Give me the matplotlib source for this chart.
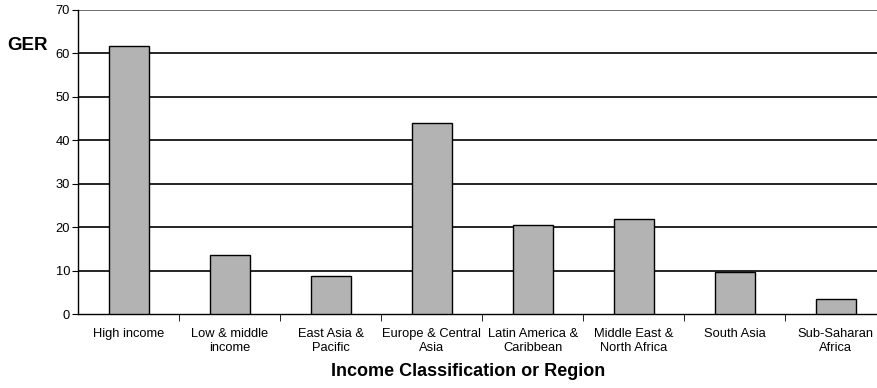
import matplotlib
matplotlib.use("Agg")
import matplotlib.pyplot as plt
import numpy as np

plt.rcParams['font.family'] = ['Liberation Sans', 'DejaVu Sans']

# data
categories = ["High income", "Low & middle\nincome", "East Asia &\nPacific",
              "Europe & Central\nAsia", "Latin America &\nCaribbean",
              "Middle East &\nNorth Africa", "South Asia", "Sub-Saharan\nAfrica"]
ger = [61.8, 13.6, 8.9, 43.9, 20.6, 22.0, 9.8, 3.6]
y_ticks = [0, 10, 20, 30, 40, 50, 60, 70]

fig = plt.figure(figsize=(8.78, 3.88), dpi=100)
ax = fig.add_axes([78.4 / 878, 73.7 / 388, 808 / 878, 304.3 / 388])

x = np.arange(len(categories))
ax.bar(x, ger, width=0.4, color="#b3b3b3", edgecolor="black", linewidth=1.0, zorder=3)

ax.set_xlim(-0.5, len(categories) - 0.5)
ax.set_ylim(0, 70)
ax.set_yticks(y_ticks)
for t in y_ticks[1:]:
    ax.axhline(t, color="black" if t < 70 else "#555555", linewidth=1.2, zorder=1)

ax.set_xticks(x)
ax.set_xticklabels(categories, fontsize=9.3, linespacing=1.15)
ax.set_xticks(np.arange(len(categories)) + 0.5, minor=True)
ax.tick_params(axis="x", which="major", length=0, pad=10)
ax.tick_params(axis="x", which="minor", length=5, direction="out", color="black")
ax.tick_params(axis="y", length=4, direction="out", labelsize=9.3, pad=2)

for s in ["top", "right"]:
    ax.spines[s].set_visible(False)
ax.spines["left"].set_linewidth(1.0)
ax.spines["bottom"].set_linewidth(1.0)

fig.text(28 / 878, 1 - 45 / 388, "GER", fontsize=13.5, fontweight="bold",
         ha="center", va="center")
fig.text(468 / 878, 1 - 372 / 388, "Income Classification or Region", fontsize=13,
         fontweight="bold", ha="center", va="center")

fig.savefig("out.png", dpi=100)
